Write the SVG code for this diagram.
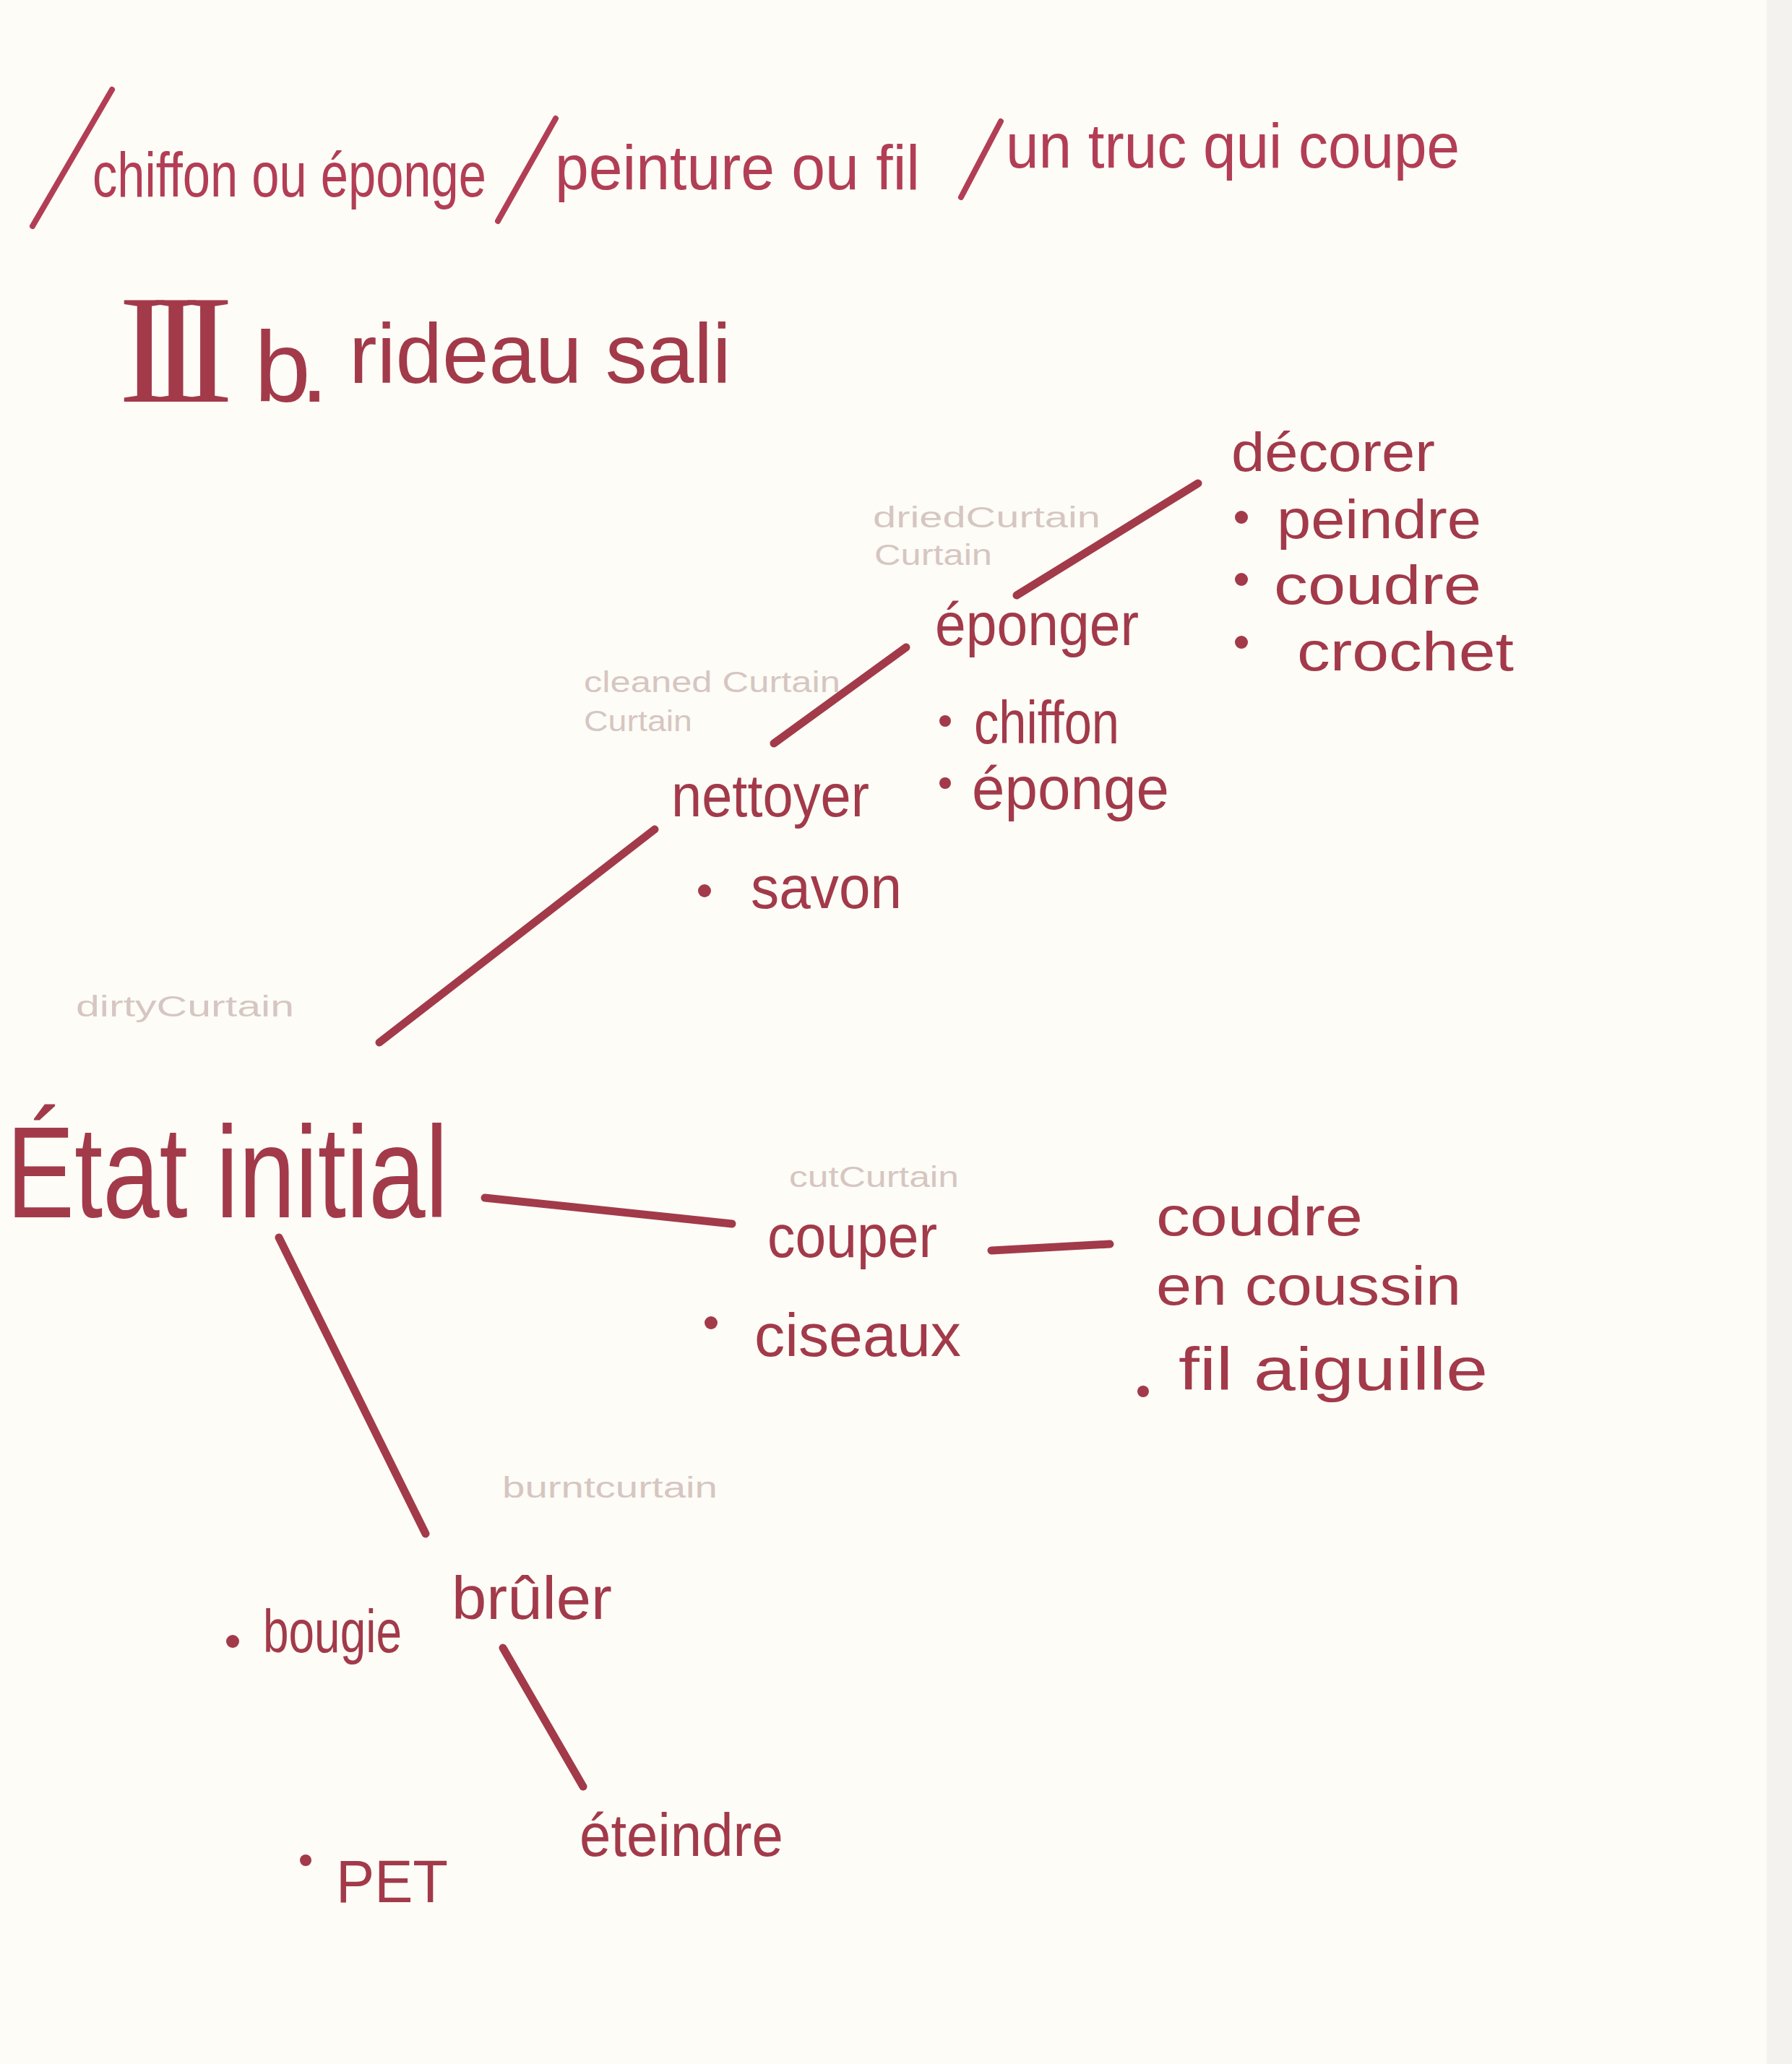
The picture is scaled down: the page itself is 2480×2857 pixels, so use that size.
<svg xmlns="http://www.w3.org/2000/svg" width="2480" height="2857" viewBox="0 0 2480 2857">
<style>
.ink{fill:#a23a4a;font-family:"Liberation Sans","DejaVu Sans",sans-serif}
.top{fill:#b23e55;font-family:"Liberation Sans","DejaVu Sans",sans-serif;font-size:88px}
.node{font-size:84px}
.list{font-size:76px}
.pencil{fill:#d6c6c1;font-family:"Liberation Sans","DejaVu Sans",sans-serif;font-size:40px}
.conn line{stroke:#a23a4a;stroke-width:11;stroke-linecap:round}
.slash line{stroke:#b23e55;stroke-width:8;stroke-linecap:round}
.dot{fill:#a23a4a}
.roman{font-family:"Liberation Serif","DejaVu Serif",serif}
</style>
<rect width="2480" height="2857" fill="#fdfcf7"/>
<rect x="2445" y="0" width="35" height="2857" fill="#f3f2ee"/>

<g id="header">
  <g class="slash">
    <line x1="45" y1="313" x2="155" y2="124"/>
    <line x1="689" y1="306" x2="769" y2="164"/>
    <line x1="1330" y1="273" x2="1385" y2="168"/>
  </g>
  <text class="top" x="128" y="272" textLength="545" lengthAdjust="spacingAndGlyphs">chiffon ou éponge</text>
  <text class="top" x="768" y="262" textLength="505" lengthAdjust="spacingAndGlyphs">peinture ou fil</text>
  <text class="top" x="1392" y="232" textLength="628" lengthAdjust="spacingAndGlyphs">un truc qui coupe</text>
</g>

<g id="title">
  <text class="ink" y="556"><tspan class="roman" x="164" font-size="215" letter-spacing="-28">III</tspan><tspan x="352" font-size="140" letter-spacing="-14">b.</tspan><tspan x="483" y="530" font-size="116">rideau sali</tspan></text>
</g>

<g class="conn" id="connectors">
  <line x1="525" y1="1443" x2="906" y2="1148"/>
  <line x1="1071" y1="1029" x2="1254" y2="896"/>
  <line x1="1407" y1="824" x2="1658" y2="669"/>
  <line x1="671" y1="1658" x2="1013" y2="1694"/>
  <line x1="1372" y1="1731" x2="1536" y2="1722"/>
  <line x1="386" y1="1713" x2="589" y2="2123"/>
  <line x1="696" y1="2281" x2="807" y2="2473"/>
</g>

<g id="etat-initial">
  <text class="pencil" x="105" y="1407" textLength="302" lengthAdjust="spacingAndGlyphs">dirtyCurtain</text>
  <text class="ink" x="9" y="1685" font-size="180" textLength="611" lengthAdjust="spacingAndGlyphs">État initial</text>
</g>

<g id="nettoyer">
  <text class="pencil" x="808" y="958" textLength="355" lengthAdjust="spacingAndGlyphs">cleaned Curtain</text>
  <text class="pencil" x="808" y="1012" textLength="150" lengthAdjust="spacingAndGlyphs">Curtain</text>
  <text class="ink node" x="929" y="1130" textLength="274" lengthAdjust="spacingAndGlyphs">nettoyer</text>
  <circle class="dot" cx="975" cy="1233" r="9"/>
  <text class="ink node" x="1039" y="1257" textLength="209" lengthAdjust="spacingAndGlyphs">savon</text>
</g>

<g id="eponger">
  <text class="pencil" x="1208" y="730" textLength="315" lengthAdjust="spacingAndGlyphs">driedCurtain</text>
  <text class="pencil" x="1210" y="782" textLength="163" lengthAdjust="spacingAndGlyphs">Curtain</text>
  <text class="ink node" x="1294" y="893" textLength="282" lengthAdjust="spacingAndGlyphs">éponger</text>
  <circle class="dot" cx="1308" cy="998" r="8"/>
  <text class="ink node" x="1348" y="1029" textLength="201" lengthAdjust="spacingAndGlyphs">chiffon</text>
  <circle class="dot" cx="1308" cy="1084" r="8"/>
  <text class="ink node" x="1345" y="1120" textLength="273" lengthAdjust="spacingAndGlyphs">éponge</text>
</g>

<g id="decorer">
  <text class="ink list" x="1704" y="652" textLength="282" lengthAdjust="spacingAndGlyphs">décorer</text>
  <circle class="dot" cx="1718" cy="716" r="9"/>
  <text class="ink list" x="1767" y="745" textLength="283" lengthAdjust="spacingAndGlyphs">peindre</text>
  <circle class="dot" cx="1718" cy="802" r="9"/>
  <text class="ink list" x="1763" y="836" textLength="287" lengthAdjust="spacingAndGlyphs">coudre</text>
  <circle class="dot" cx="1718" cy="889" r="9"/>
  <text class="ink list" x="1795" y="928" textLength="300" lengthAdjust="spacingAndGlyphs">crochet</text>
</g>

<g id="couper">
  <text class="pencil" x="1092" y="1643" textLength="235" lengthAdjust="spacingAndGlyphs">cutCurtain</text>
  <text class="ink node" x="1062" y="1740" textLength="235" lengthAdjust="spacingAndGlyphs">couper</text>
  <circle class="dot" cx="984" cy="1831" r="9"/>
  <text class="ink node" x="1044" y="1877" textLength="286" lengthAdjust="spacingAndGlyphs">ciseaux</text>
</g>

<g id="coudre-coussin">
  <text class="ink list" x="1600" y="1710" textLength="286" lengthAdjust="spacingAndGlyphs">coudre</text>
  <text class="ink list" x="1600" y="1806" textLength="422" lengthAdjust="spacingAndGlyphs">en coussin</text>
  <circle class="dot" cx="1582" cy="1926" r="8"/>
  <text class="ink node" x="1631" y="1924" textLength="428" lengthAdjust="spacingAndGlyphs">fil aiguille</text>
</g>

<g id="bruler">
  <text class="pencil" x="695" y="2073" textLength="298" lengthAdjust="spacingAndGlyphs">burntcurtain</text>
  <text class="ink node" x="625" y="2241" textLength="222" lengthAdjust="spacingAndGlyphs">brûler</text>
  <circle class="dot" cx="322" cy="2272" r="9"/>
  <text class="ink node" x="364" y="2287" textLength="192" lengthAdjust="spacingAndGlyphs">bougie</text>
</g>

<g id="eteindre">
  <text class="ink node" x="802" y="2569" textLength="282" lengthAdjust="spacingAndGlyphs">éteindre</text>
  <circle class="dot" cx="423" cy="2575" r="8"/>
  <text class="ink node" x="465" y="2633" textLength="155" lengthAdjust="spacingAndGlyphs">PET</text>
</g>
</svg>
